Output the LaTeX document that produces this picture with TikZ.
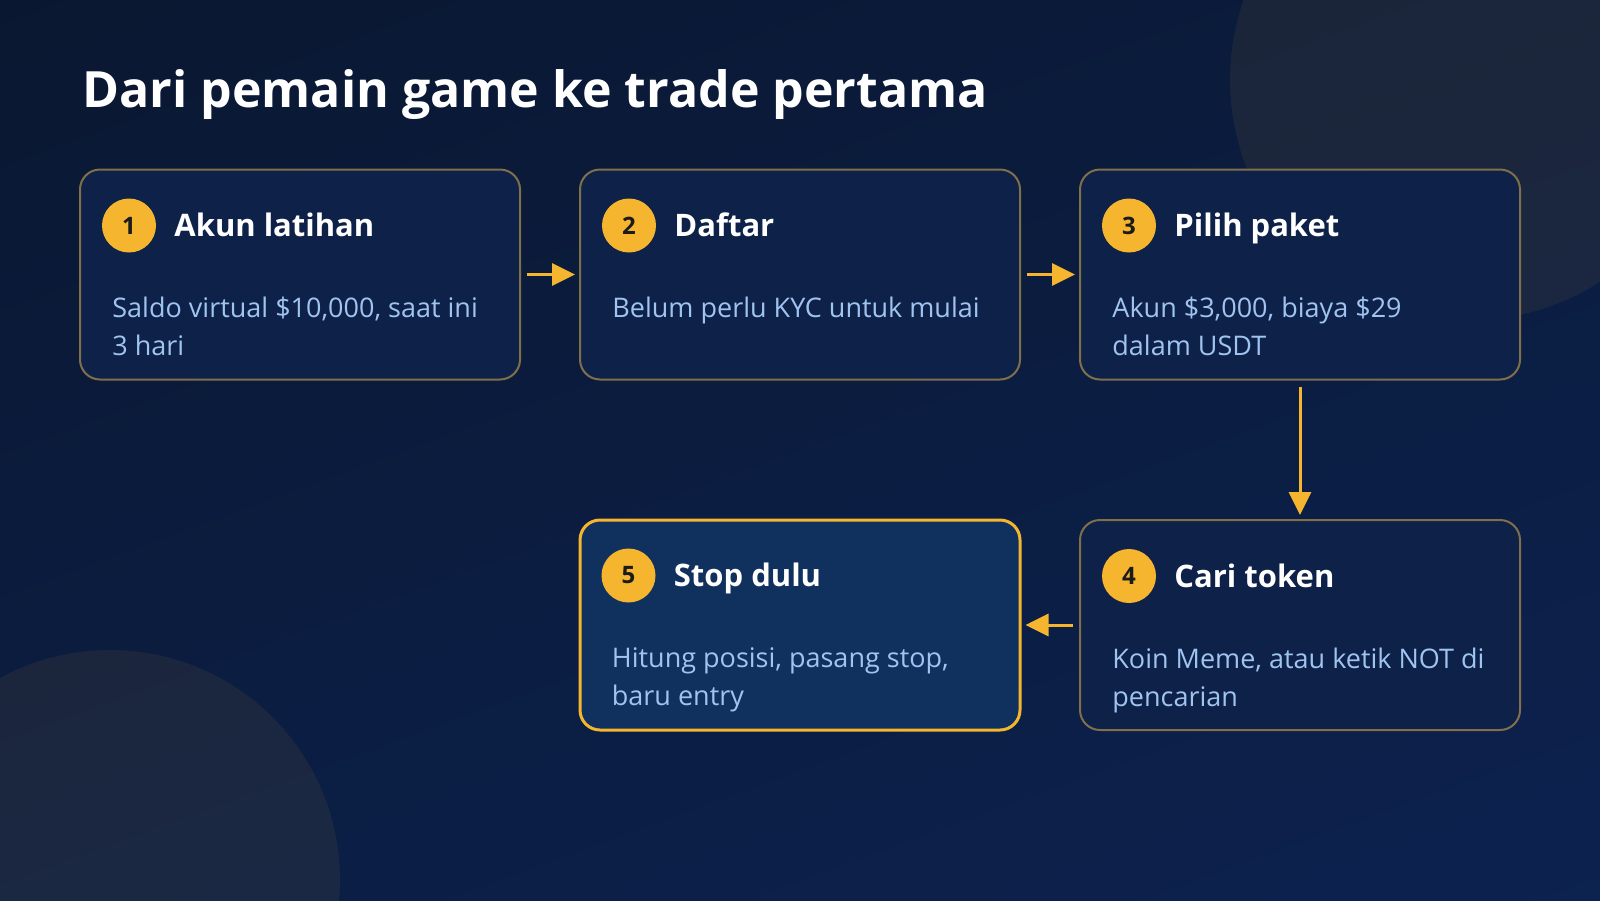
\documentclass[tikz,border=0pt]{standalone}
\usepackage{fontspec}
\setmainfont{Open Sans}
\usetikzlibrary{arrows.meta}
\definecolor{bgtop}{HTML}{0A1730}
\definecolor{bgbot}{HTML}{0C2250}
\definecolor{cardfill}{HTML}{0E2149}
\definecolor{cardhi}{HTML}{10305E}
\definecolor{cardline}{HTML}{80704A}
\definecolor{amber}{HTML}{F5B52E}
\definecolor{bodyblue}{HTML}{A0C4F0}
\definecolor{badgeink}{HTML}{1B1B1B}
\begin{document}
\begin{tikzpicture}[x=0.5pt,y=-0.5pt,
  card/.style={draw=cardline, line width=1pt, fill=cardfill, rounded corners=10pt,
    minimum width=220pt, minimum height=105pt, inner sep=0pt},
  cardlast/.style={card, draw=amber, line width=1.5pt, fill=cardhi},
  badge/.style={circle, fill=amber, minimum size=27pt, inner sep=0pt,
    text=badgeink, font=\fontsize{12}{14}\selectfont\bfseries},
  cardtitle/.style={anchor=base west, inner sep=0pt, text=white,
    font=\fontsize{15.5}{18}\selectfont\bfseries},
  cardbody/.style={anchor=base west, inner sep=0pt, align=left, text=bodyblue,
    font=\fontsize{13.5}{19}\selectfont},
  flow/.style={draw=amber, line width=1.5pt, -{Triangle[length=11.5pt,width=11pt]},
    shorten <=3pt, shorten >=2pt}]
\useasboundingbox (0,0) rectangle (1600,900);
\begin{scope}
\clip (0,0) rectangle (1600,900);
\fill[top color=bgtop, bottom color=bgbot, shading angle=20] (-200,-200) rectangle (1800,1100);
\fill[amber, opacity=0.07] (1470,80) circle[radius=240];
\fill[amber, opacity=0.07] (110,880) circle[radius=230];
\end{scope}

\node[anchor=base west, inner sep=0pt, text=white, font=\fontsize{25}{30}\selectfont\bfseries]
  (title) at (82,107) {Dari pemain game ke trade pertama};

% kartu langkah
\node[card] (c1) at (300,274.5) {};
\node[card] (c2) at (800,274.5) {};
\node[card] (c3) at (1300,274.5) {};
\node[card] (c4) at (1300,625) {};
\node[cardlast] (c5) at (800,625) {};

% isi kartu (baris terakhir teks pada base)
\node[badge] (b1) at ([shift={(50,57)}]c1.north west) {1};
\node[cardtitle] (t1) at ([shift={(95,68)}]c1.north west) {Akun latihan};
\node[cardbody] (d1) at ([shift={(33,187)}]c1.north west) {Saldo virtual \$10,000, saat ini\\3 hari};

\node[badge] (b2) at ([shift={(50,57)}]c2.north west) {2};
\node[cardtitle] (t2) at ([shift={(95,68)}]c2.north west) {Daftar};
\node[cardbody] (d2) at ([shift={(33,149)}]c2.north west) {Belum perlu KYC untuk mulai};

\node[badge] (b3) at ([shift={(50,57)}]c3.north west) {3};
\node[cardtitle] (t3) at ([shift={(95,68)}]c3.north west) {Pilih paket};
\node[cardbody] (d3) at ([shift={(33,187)}]c3.north west) {Akun \$3,000, biaya \$29\\dalam USDT};

\node[badge] (b4) at ([shift={(50,57)}]c4.north west) {4};
\node[cardtitle] (t4) at ([shift={(95,68)}]c4.north west) {Cari token};
\node[cardbody] (d4) at ([shift={(33,187)}]c4.north west) {Koin Meme, atau ketik NOT di\\pencarian};

\node[badge] (b5) at ([shift={(50,57)}]c5.north west) {5};
\node[cardtitle] (t5) at ([shift={(95,68)}]c5.north west) {Stop dulu};
\node[cardbody] (d5) at ([shift={(33,187)}]c5.north west) {Hitung posisi, pasang stop,\\baru entry};

\path[flow] (c1) -- (c2);
\path[flow] (c2) -- (c3);
\path[flow] (c3) -- (c4);
\path[flow] (c4) -- (c5);
\end{tikzpicture}
\end{document}
